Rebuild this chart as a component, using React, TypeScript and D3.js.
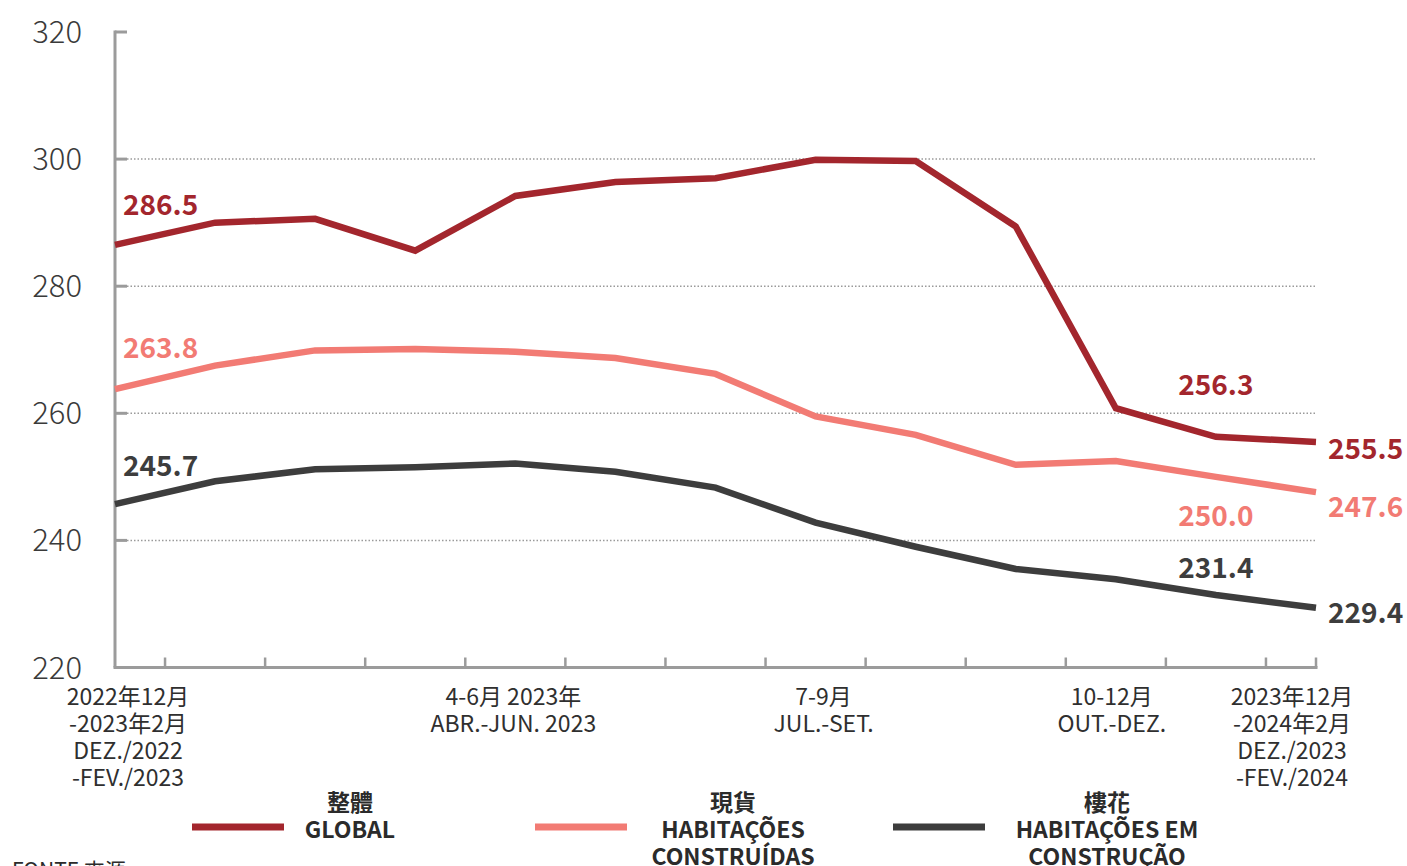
import React from "react";
import * as d3 from "d3";

const periods = [
  "2022-12/2023-02", "2023-01/03", "2023-02/04", "2023-03/05", "2023-04/06",
  "2023-05/07", "2023-06/08", "2023-07/09", "2023-08/10", "2023-09/11",
  "2023-10/12", "2023-11/2024-01", "2023-12/2024-02",
];
const globalValues = [286.5, 290.0, 290.6, 285.6, 294.2, 296.4, 297.0, 299.9, 299.7, 289.4, 260.8, 256.3, 255.5];
const builtValues = [263.8, 267.5, 269.9, 270.1, 269.7, 268.7, 266.2, 259.5, 256.6, 251.9, 252.5, 250.0, 247.6];
const constructionValues = [245.7, 249.3, 251.2, 251.5, 252.1, 250.8, 248.3, 242.8, 239.0, 235.5, 233.9, 231.4, 229.4];

const yTicks = [220, 240, 260, 280, 300, 320];
const xLabelIndex = [0, 4, 7, 10, 12];
const xLabelLines = [
  ["2022年12月", "-2023年2月", "DEZ./2022", "-FEV./2023"],
  ["4-6月 2023年", "ABR.-JUN. 2023"],
  ["7-9月", "JUL.-SET."],
  ["10-12月", "OUT.-DEZ."],
  ["2023年12月", "-2024年2月", "DEZ./2023", "-FEV./2024"],
];
const seriesNames = [
  ["整體", "GLOBAL"],
  ["現貨", "HABITAÇÕES", "CONSTRUÍDAS"],
  ["樓花", "HABITAÇÕES EM", "CONSTRUÇÃO"],
];
const labeledIndex = [0, 11, 12];

const colors = ["#a3262d", "#f27b74", "#3d3d3d"];
const FONT = "'Noto Sans CJK TC', 'Noto Sans', sans-serif";

export default function App() {
  const series = [globalValues, builtValues, constructionValues];
  const x = d3.scaleLinear().domain([0, periods.length - 1]).range([115, 1316]);
  const y = d3.scaleLinear().domain([220, 320]).range([667.5, 32]);
  const line = d3
    .line<number>()
    .x((_, i) => x(i))
    .y((d) => y(d));

  // label offsets per series for indices [0, 11, 12]
  const labelOffsets = [
    [[8, -30, "start"], [0, -42, "middle"], [12, 17, "start"]],
    [[8, -31, "start"], [0, 49, "middle"], [12, 25, "start"]],
    [[8, -28, "start"], [0, -17, "middle"], [12, 15, "start"]],
  ];
  const xLabelShift = [13, -2, 8, -4, -24];
  const legendX = [192, 535, 893];
  const legendTextX = [350, 733, 1107];

  const tickXs = d3.range(periods.length - 1).map((i) => x(i + 0.5));

  return (
    <svg
      width={1407}
      height={866}
      style={{ position: "absolute", left: 0, top: 0, background: "#fff" }}
      fontFamily={FONT}
    >
      {/* grid */}
      {yTicks.slice(1, 5).map((t) => (
        <line
          key={"g" + t}
          x1={127}
          x2={1316}
          y1={y(t)}
          y2={y(t)}
          stroke="#9a9a9a"
          strokeWidth={1.5}
          strokeDasharray="1.5,2"
        />
      ))}
      {/* y axis */}
      <line x1={115} x2={115} y1={y(320) - 1.5} y2={y(220)} stroke="#9b9b9b" strokeWidth={3} />
      {yTicks.slice(1).map((t) => (
        <line key={"yt" + t} x1={115} x2={127} y1={y(t)} y2={y(t)} stroke="#9b9b9b" strokeWidth={3} />
      ))}
      {yTicks.map((t) => (
        <text
          key={"yl" + t}
          x={82}
          y={y(t) + 11}
          textAnchor="end"
          fontSize={31}
          fontWeight={300}
          fill="#3a3a3a"
        >
          {t}
        </text>
      ))}
      {/* x axis */}
      <line x1={113.5} x2={1317.5} y1={y(220)} y2={y(220)} stroke="#9b9b9b" strokeWidth={3} />
      {[...tickXs, x(12)].map((tx, i) => (
        <line key={"xt" + i} x1={tx} x2={tx} y1={y(220)} y2={y(220) - 10} stroke="#9b9b9b" strokeWidth={2.5} />
      ))}
      {xLabelIndex.map((idx, k) => (
        <text
          key={"xl" + idx}
          x={x(idx) + xLabelShift[k]}
          y={705}
          textAnchor="middle"
          fontSize={23}
          fill="#2f2f2f"
        >
          {xLabelLines[k].map((s, j) => (
            <tspan key={j} x={x(idx) + xLabelShift[k]} dy={j === 0 ? 0 : 27}>
              {s}
            </tspan>
          ))}
        </text>
      ))}
      {/* lines */}
      {series.map((vals, s) => (
        <path
          key={"s" + s}
          d={line(vals) || ""}
          fill="none"
          stroke={colors[s]}
          strokeWidth={6.5}
          strokeLinejoin="miter"
        />
      ))}
      {/* value labels */}
      {series.map((vals, s) =>
        labeledIndex.map((idx, k) => {
          const [dx, dy, anchor] = labelOffsets[s][k] as [number, number, string];
          return (
            <text
              key={"v" + s + "-" + idx}
              x={x(idx) + dx}
              y={y(vals[idx]) + dy}
              textAnchor={anchor as any}
              fontSize={28}
              fontWeight={700}
              fill={colors[s]}
            >
              {vals[idx].toFixed(1)}
            </text>
          );
        })
      )}
      {/* legend */}
      {seriesNames.map((names, s) => (
        <g key={"lg" + s}>
          <line x1={legendX[s]} x2={legendX[s] + 92} y1={827} y2={827} stroke={colors[s]} strokeWidth={7} />
          <text x={legendTextX[s]} y={811} textAnchor="middle" fontSize={23} fontWeight={700} fill="#2b2b2b">
            {names.map((n, j) => (
              <tspan key={j} x={legendTextX[s]} dy={j === 0 ? 0 : 27}>
                {n}
              </tspan>
            ))}
          </text>
        </g>
      ))}
      <text x={12} y={878} fontSize={21} fill="#2b2b2b">
        FONTE 來源
      </text>
    </svg>
  );
}
